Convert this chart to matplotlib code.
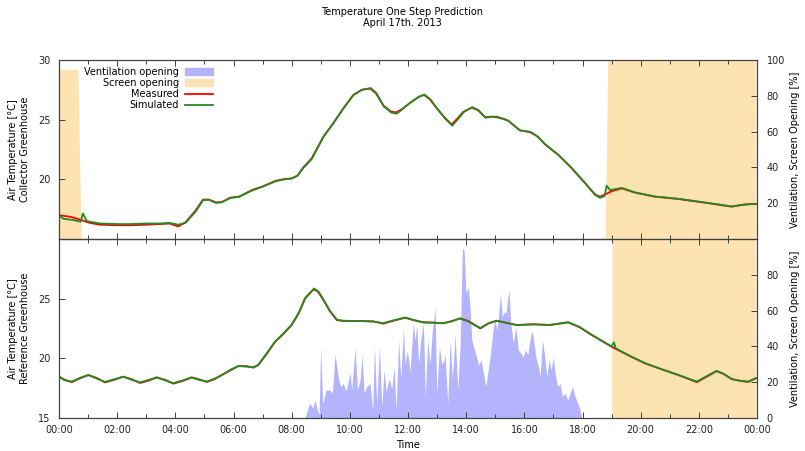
import matplotlib
matplotlib.use("Agg")
import matplotlib.pyplot as plt
from matplotlib.patches import Patch
from matplotlib.ticker import MultipleLocator

plt.rcParams['font.family'] = ['DejaVu Sans']
plt.rcParams['font.size'] = 7

# --- data (hours since midnight) ---
tick_hours = [0, 2, 4, 6, 8, 10, 12, 14, 16, 18, 20, 22, 24]
tick_labels = ["00:00", "02:00", "04:00", "06:00", "08:00", "10:00", "12:00",
               "14:00", "16:00", "18:00", "20:00", "22:00", "00:00"]

# collector greenhouse, measured
col_meas_t = [0.00, 0.40, 0.75, 1.05, 1.40, 2.00, 2.50, 3.00, 3.50, 3.80, 4.10, 4.35,
              4.70, 4.95, 5.15, 5.40, 5.60, 5.88, 6.20, 6.63, 7.00, 7.43, 7.70, 8.00,
              8.20, 8.40, 8.69, 9.09, 9.43, 9.78, 10.12, 10.41, 10.70, 10.90, 11.15,
              11.40, 11.59, 11.80, 11.96, 12.18, 12.40, 12.55, 12.75, 12.99, 13.25,
              13.50, 13.70, 13.90, 14.19, 14.40, 14.65, 14.85, 15.05, 15.30, 15.45,
              15.65, 15.85, 16.20, 16.45, 16.71, 17.17, 17.63, 18.09, 18.43, 18.60,
              18.78, 19.00, 19.35, 19.81, 20.50, 21.30, 22.21, 23.13, 23.59, 23.94, 24.00]
col_meas_v = [17.0, 16.85, 16.6, 16.35, 16.2, 16.15, 16.15, 16.2, 16.25, 16.3, 16.05, 16.4,
              17.4, 18.3, 18.3, 18.07, 18.1, 18.46, 18.55, 19.1, 19.4, 19.86, 20.0, 20.08,
              20.3, 21.0, 21.76, 23.57, 24.7, 25.95, 27.07, 27.5, 27.6, 27.2, 26.2,
              25.7, 25.6, 25.9, 26.2, 26.6, 26.95, 27.07, 26.7, 25.95, 25.2,
              24.6, 25.1, 25.65, 26.0, 25.8, 25.2, 25.25, 25.2, 25.05, 24.9,
              24.5, 24.1, 23.95, 23.6, 22.93, 22.04, 20.92, 19.66, 18.74, 18.54,
              18.74, 19.0, 19.24, 18.88, 18.54, 18.35, 18.04, 17.71, 17.9, 17.93, 17.93]

# collector greenhouse, simulated
col_sim_t = [0.00, 0.14, 0.45, 0.75, 0.82, 0.95, 1.40, 2.00, 2.50, 3.00, 3.50, 3.80,
             4.10, 4.35, 4.70, 4.95, 5.15, 5.40, 5.60, 5.88, 6.20, 6.63, 7.00, 7.43,
             7.70, 8.00, 8.20, 8.40, 8.69, 9.09, 9.43, 9.78, 10.12, 10.41, 10.72,
             10.92, 11.17, 11.42, 11.61, 11.80, 11.96, 12.18, 12.40, 12.57, 12.77,
             13.01, 13.27, 13.52, 13.72, 13.92, 14.21, 14.42, 14.67, 14.87, 15.05,
             15.30, 15.45, 15.65, 15.85, 16.20, 16.45, 16.71, 17.17, 17.63, 18.09,
             18.43, 18.60, 18.76, 18.83, 18.95, 19.35, 19.81, 20.50, 21.30, 22.21,
             23.13, 23.59, 23.94, 24.00]
col_sim_v = [17.0, 16.7, 16.6, 16.45, 17.15, 16.5, 16.3, 16.25, 16.25, 16.3, 16.3, 16.35,
             16.2, 16.35, 17.3, 18.25, 18.3, 18.02, 18.08, 18.42, 18.55, 19.05, 19.38,
             19.82, 19.98, 20.06, 20.3, 20.95, 21.7, 23.55, 24.7, 25.95, 27.05, 27.5,
             27.65, 27.2, 26.1, 25.6, 25.5, 25.85, 26.2, 26.6, 26.95, 27.1, 26.7,
             25.9, 25.1, 24.5, 25.05, 25.65, 26.05, 25.8, 25.15, 25.25, 25.25,
             25.05, 24.9, 24.5, 24.1, 23.98, 23.6, 22.95, 22.05, 20.95, 19.7,
             18.7, 18.45, 18.6, 19.46, 19.1, 19.28, 18.9, 18.56, 18.37, 18.06,
             17.73, 17.88, 17.95, 17.95]

# reference greenhouse, measured
ref_meas_t = [0.00, 0.20, 0.44, 0.70, 1.01, 1.30, 1.58, 1.90, 2.21, 2.50, 2.79, 3.10,
              3.36, 3.65, 3.93, 4.25, 4.56, 4.80, 5.08, 5.35, 5.60, 5.90, 6.17, 6.45,
              6.68, 6.85, 7.15, 7.43, 7.70, 8.00, 8.25, 8.46, 8.75, 8.90, 9.09, 9.30,
              9.55, 9.80, 10.35, 10.80, 11.15, 11.50, 11.90, 12.20, 12.53, 12.85,
              13.22, 13.50, 13.79, 14.07, 14.30, 14.48, 14.75, 15.05, 15.35, 15.74,
              16.30, 16.88, 17.20, 17.51, 17.90, 18.32, 18.70, 19.00, 19.30, 19.70,
              20.15, 20.70, 21.30, 21.93, 22.30, 22.61, 22.85, 23.13, 23.45, 23.70,
              23.94, 24.00]
ref_meas_v = [18.46, 18.2, 18.0, 18.3, 18.6, 18.35, 17.98, 18.2, 18.46, 18.25, 17.93, 18.15,
              18.4, 18.2, 17.88, 18.1, 18.4, 18.25, 18.02, 18.25, 18.6, 19.0, 19.35, 19.35,
              19.22, 19.43, 20.4, 21.39, 22.0, 22.79, 23.8, 25.0, 25.78, 25.6, 24.89, 24.0,
              23.2, 23.13, 23.13, 23.1, 22.9, 23.15, 23.4, 23.2, 23.02, 23.0,
              22.93, 23.1, 23.35, 23.13, 22.8, 22.5, 22.9, 23.15, 23.0, 22.79,
              22.85, 22.79, 22.9, 23.02, 22.6, 21.95, 21.4, 20.97, 20.6, 20.1,
              19.58, 19.1, 18.6, 18.0, 18.5, 18.93, 18.7, 18.27, 18.1, 18.02,
              18.32, 18.35]

# reference greenhouse, simulated
ref_sim_t = [0.00, 0.20, 0.44, 0.70, 1.01, 1.30, 1.58, 1.90, 2.21, 2.50, 2.79, 3.10,
             3.36, 3.65, 3.93, 4.25, 4.56, 4.80, 5.08, 5.35, 5.60, 5.90, 6.17, 6.45,
             6.68, 6.85, 7.15, 7.43, 7.70, 8.00, 8.25, 8.46, 8.77, 8.92, 9.11, 9.32,
             9.57, 9.80, 10.35, 10.80, 11.15, 11.50, 11.90, 12.20, 12.53, 12.85,
             13.22, 13.50, 13.79, 14.07, 14.30, 14.50, 14.77, 15.05, 15.35, 15.74,
             16.30, 16.88, 17.20, 17.51, 17.90, 18.32, 18.70, 19.00, 19.08, 19.14,
             19.30, 19.70, 20.15, 20.70, 21.30, 21.93, 22.30, 22.61, 22.85, 23.13,
             23.45, 23.70, 23.94, 24.00]
ref_sim_v = [18.46, 18.15, 18.05, 18.35, 18.6, 18.3, 18.02, 18.25, 18.46, 18.2, 17.98, 18.2,
             18.4, 18.15, 17.92, 18.15, 18.4, 18.2, 18.06, 18.3, 18.6, 19.05, 19.35, 19.3,
             19.25, 19.45, 20.45, 21.4, 22.05, 22.82, 23.85, 25.05, 25.85, 25.6, 24.85, 23.95,
             23.2, 23.15, 23.12, 23.08, 22.95, 23.18, 23.42, 23.2, 23.0, 22.98,
             22.95, 23.12, 23.33, 23.1, 22.75, 22.55, 22.95, 23.15, 22.98, 22.78,
             22.85, 22.8, 22.92, 23.02, 22.62, 21.97, 21.42, 21.0, 21.34, 20.85,
             20.62, 20.12, 19.6, 19.1, 18.6, 18.05, 18.55, 18.95, 18.68, 18.25,
             18.1, 18.05, 18.3, 18.35]

# screen opening [%]
col_screen_t = [0.00, 0.65, 0.76, 18.78, 18.87, 23.95, 23.96]
col_screen_v = [94.8, 94.8, 0.0, 0.0, 104.0, 104.0, 0.0]
ref_screen_t = [0.00, 19.00, 19.02, 23.95, 23.96]
ref_screen_v = [0.0, 0.0, 104.0, 104.0, 0.0]

# ventilation opening [%], reference greenhouse
vent_t = [8.459, 8.574, 8.631, 8.723, 8.803, 8.883, 8.941, 8.998, 9.067, 9.181, 9.319,
          9.399, 9.491, 9.606, 9.686, 9.778, 9.869, 9.950, 10.007, 10.064, 10.179,
          10.259, 10.351, 10.420, 10.488, 10.580, 10.695, 10.786, 10.844, 10.924,
          11.016, 11.096, 11.176, 11.245, 11.359, 11.440, 11.520, 11.589, 11.680,
          11.749, 11.841, 11.898, 11.978, 12.070, 12.185, 12.242, 12.299, 12.368,
          12.437, 12.529, 12.597, 12.678, 12.758, 12.827, 12.930, 12.987, 13.079,
          13.159, 13.239, 13.274, 13.365, 13.446, 13.526, 13.618, 13.709, 13.790,
          13.870, 13.927, 13.996, 14.076, 14.133, 14.191, 14.283, 14.363, 14.420,
          14.512, 14.592, 14.672, 14.741, 14.821, 14.936, 14.993, 15.051, 15.108,
          15.177, 15.245, 15.314, 15.371, 15.429, 15.474, 15.532, 15.623, 15.704,
          15.795, 15.887, 15.967, 16.025, 16.116, 16.197, 16.254, 16.323, 16.392,
          16.483, 16.541, 16.621, 16.690, 16.770, 16.850, 16.919, 16.999, 17.056,
          17.148, 17.228, 17.308, 17.400, 17.492, 17.572, 17.652, 17.744, 17.836,
          17.916, 17.973]
vent_v = [0, 6.3, 8.2, 5.4, 10, 4.5, 1.7, 39.8, 8, 15.6, 15.6,
          14, 36, 22, 17.5, 19.4, 15, 21, 25, 16, 39,
          16, 21, 35, 14, 17.5, 19.4, 4.5, 40.8, 8,
          39.8, 6.3, 26.8, 15, 22, 16, 28.7, 4.5, 43.6,
          22, 50, 30, 38, 26, 53.8, 43.6, 52, 30,
          43.6, 53, 12, 43.6, 30, 47, 62, 13.8, 39.8,
          30, 32, 35.4, 8.2, 43.6, 22, 47, 16, 39.8,
          94.8, 93.8, 69.6, 73, 62, 43.6, 38, 34, 29.6,
          32.4, 25, 17.5, 25, 34, 51, 54.7, 49, 56.6,
          69.6, 56.6, 59.4, 58.5, 67, 71.5, 53, 41.7, 51,
          38, 36, 34, 38, 35.4, 43.6, 49, 43.6, 34,
          28.7, 23, 43.6, 36, 23, 32.4, 26.8, 34, 25,
          17.5, 19.4, 12, 13.8, 10, 13.8, 17.5, 12, 8.2,
          4.5, 0]

RED = "#ff0000"
GREEN = "#228b22"
SCREEN = "#fde3b2"
VENT = "#b4b4fc"
EDGE = "#404040"

fig = plt.figure(figsize=(8.05, 4.51), dpi=100)
ax_top = fig.add_axes([0.0733, 0.4701, 0.8671, 0.3969])
ax_bot = fig.add_axes([0.0733, 0.0732, 0.8671, 0.3969])
tw_top = ax_top.twinx()
tw_bot = ax_bot.twinx()

tw_top.fill_between(col_screen_t, 0, col_screen_v, color=SCREEN, lw=0)
tw_bot.fill_between(ref_screen_t, 0, ref_screen_v, color=SCREEN, lw=0)
tw_bot.fill_between(vent_t, 0, vent_v, color=VENT, lw=0)

ax_top.plot(col_meas_t, col_meas_v, color=RED, lw=1.3, label="Measured")
ax_top.plot(col_sim_t, col_sim_v, color=GREEN, lw=1.3, label="Simulated")
ax_bot.plot(ref_meas_t, ref_meas_v, color=RED, lw=1.3)
ax_bot.plot(ref_sim_t, ref_sim_v, color=GREEN, lw=1.3)

for ax, tw in [(ax_top, tw_top), (ax_bot, tw_bot)]:
    # temperature lines drawn above the opening fills
    ax.set_zorder(tw.get_zorder() + 1)
    ax.patch.set_visible(False)
    ax.set_xlim(0, 24)
    ax.set_ylim(15, 30)
    tw.set_ylim(0, 100)
    ax.set_xticks(tick_hours)
    ax.xaxis.set_minor_locator(MultipleLocator(1))
    ax.tick_params(which="both", direction="in", top=True, bottom=True,
                   left=True, right=False, colors=EDGE, labelcolor="#222222")
    ax.tick_params(which="major", length=4.5, width=0.7)
    ax.tick_params(which="minor", length=3, width=0.7)
    ax.tick_params(axis="y", pad=6)
    ax.tick_params(axis="x", pad=5)
    tw.tick_params(which="both", direction="in", left=False, right=True,
                   top=False, bottom=False, length=4.5, width=0.7, pad=7,
                   colors=EDGE, labelcolor="#222222")
    for a in (ax, tw):
        for s in a.spines.values():
            s.set_color(EDGE)
            s.set_linewidth(0.8)

ax_top.set_yticks([20, 25, 30])
ax_bot.set_yticks([15, 20, 25])
tw_top.set_yticks([20, 40, 60, 80, 100])
tw_bot.set_yticks([0, 20, 40, 60, 80])
ax_top.set_xticklabels([])
ax_bot.set_xticklabels(tick_labels)

ax_top.set_ylabel("Air Temperature [°C]\nCollector Greenhouse")
ax_bot.set_ylabel("Air Temperature [°C]\nReference Greenhouse")
for ax in (ax_top, ax_bot):
    ax.yaxis.set_label_coords(-0.0415, 0.5)
for tw in (tw_top, tw_bot):
    tw.set_ylabel("Ventilation, Screen Opening [%]")
    tw.yaxis.set_label_coords(1.047, 0.5)
ax_bot.set_xlabel("Time")
ax_bot.xaxis.set_label_coords(0.5, -0.125)

fig.text(0.5, 0.985, "Temperature One Step Prediction\nApril 17th. 2013",
         ha="center", va="top", fontsize=7)

handles = [Patch(color=VENT, label="Ventilation opening"),
           Patch(color=SCREEN, label="Screen opening")] + ax_top.get_lines()
leg = ax_top.legend(handles=handles, loc="upper left",
                    bbox_to_anchor=(0.036, 0.962), frameon=False,
                    markerfirst=False, handlelength=2.9, handletextpad=0.6,
                    labelspacing=0.12, borderpad=0, borderaxespad=0, fontsize=7)
# right-align the label/sample rows like gnuplot does
for col in leg._legend_handle_box.get_children():
    col.align = "right"

fig.savefig("out.png", dpi=100)
